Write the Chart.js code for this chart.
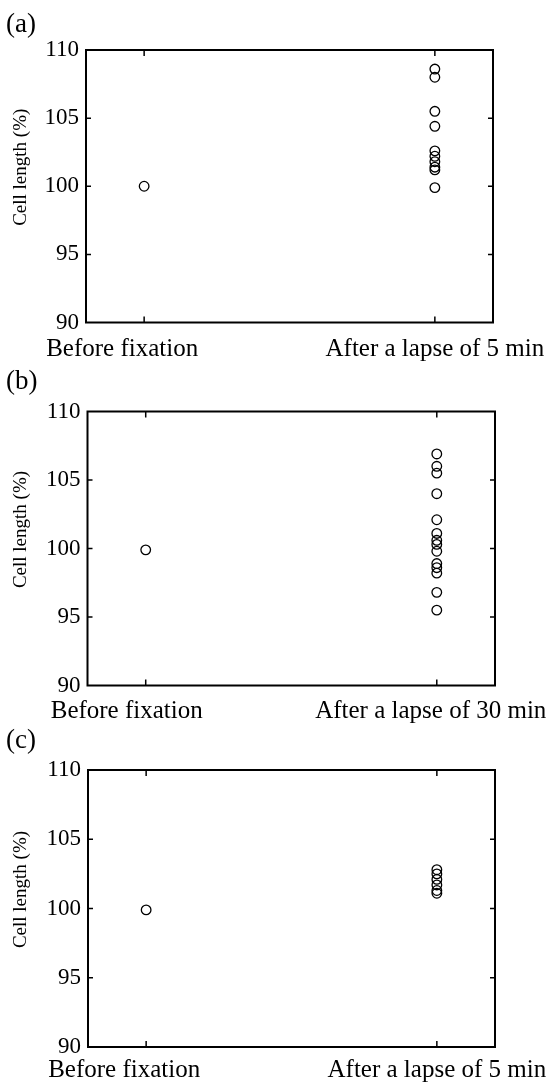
<!DOCTYPE html>
<html><head><meta charset="utf-8">
<script src="https://cdn.jsdelivr.net/npm/chart.js@4"></script>
<style>
html,body{margin:0;padding:0;background:#fff;}
body{width:552px;height:1082px;position:relative;overflow:hidden;}
.p{position:absolute;left:0;width:552px;}
canvas{display:block;}
</style></head><body>
<div class="p" id="wa"><canvas id="ca"></canvas></div>
<div class="p" id="wb"><canvas id="cb"></canvas></div>
<div class="p" id="wc"><canvas id="cc"></canvas></div>
<script>
// ---- data ----
const panelLabels = ['(a)', '(b)', '(c)'];
const yTitle = 'Cell length (%)';
const yTickValues = [90, 95, 100, 105, 110];
const categoryPositions = [1, 2];
const categoriesA = ['Before fixation', 'After a lapse of 5 min'];
const categoriesB = ['Before fixation', 'After a lapse of 30 min'];
const categoriesC = ['Before fixation', 'After a lapse of 5 min'];
const beforeA = [100.0];
const afterA = [108.6, 108.0, 105.5, 104.4, 102.6, 102.2, 101.8, 101.4, 101.2, 99.9];
const beforeB = [99.9];
const afterB = [106.9, 106.0, 105.5, 104.0, 102.1, 101.1, 100.6, 100.3, 99.8, 98.9, 98.6, 98.2, 96.8, 95.5];
const beforeC = [99.9];
const afterC = [102.8, 102.5, 102.1, 101.7, 101.3, 101.1];

// ---- layout / style ----
const SERIF = '"Liberation Serif", "DejaVu Serif", serif';
const panels = [
  {id:'a', label:panelLabels[0], cats:categoriesA, before:beforeA, after:afterA,
   top:0, h:365, cTop:50, cBot:322.5, left:86, right:493, lblOffs:[-22, 0], lblBase:32, catBase:33},
  {id:'b', label:panelLabels[1], cats:categoriesB, before:beforeB, after:afterB,
   top:365, h:360, cTop:46.5, cBot:320.5, left:87.5, right:495, lblOffs:[-19, -6], lblBase:24, catBase:32},
  {id:'c', label:panelLabels[2], cats:categoriesC, before:beforeC, after:afterC,
   top:725, h:357, cTop:45, cBot:322, left:88, right:495, lblOffs:[-22, 0], lblBase:23, catBase:30}
];

const framePlugin = {
  id: 'frame',
  afterDraw(chart, args, opts) {
    const {ctx, chartArea: a, scales} = chart;
    ctx.save();
    ctx.strokeStyle = '#000';
    ctx.lineWidth = 2;
    ctx.strokeRect(a.left, a.top, a.right - a.left, a.bottom - a.top);
    ctx.lineWidth = 1.5;
    ctx.beginPath();
    yTickValues.forEach(v => {
      if (v === scales.y.min || v === scales.y.max) return;
      const y = scales.y.getPixelForValue(v);
      ctx.moveTo(a.left, y); ctx.lineTo(a.left + 5, y);
      ctx.moveTo(a.right, y); ctx.lineTo(a.right - 5, y);
    });
    categoryPositions.forEach(v => {
      const x = scales.x.getPixelForValue(v);
      ctx.moveTo(x, a.bottom); ctx.lineTo(x, a.bottom - 6);
      ctx.moveTo(x, a.top); ctx.lineTo(x, a.top + 6);
    });
    ctx.stroke();
    ctx.fillStyle = '#000';
    // category labels
    ctx.font = '25px ' + SERIF;
    ctx.textAlign = 'center';
    ctx.textBaseline = 'alphabetic';
    categoryPositions.forEach((v, i) => {
      const x = scales.x.getPixelForValue(v) + opts.lblOffs[i];
      ctx.fillText(opts.cats[i], x, a.bottom + opts.catBase);
    });
    // panel label
    ctx.font = '27px ' + SERIF;
    ctx.textAlign = 'left';
    ctx.fillText(opts.label, 6, opts.lblBase);
    // y title
    ctx.font = '19px ' + SERIF;
    ctx.translate(21, (a.top + a.bottom) / 2 - 19);
    ctx.rotate(-Math.PI / 2);
    ctx.textAlign = 'center';
    ctx.textBaseline = 'middle';
    ctx.fillText(yTitle, 0, 0);
    ctx.restore();
  }
};

panels.forEach(p => {
  const wrap = document.getElementById('w' + p.id);
  wrap.style.top = p.top + 'px';
  wrap.style.height = p.h + 'px';
  const cv = document.getElementById('c' + p.id);
  cv.width = 552; cv.height = p.h;
  const pointStyle = {
    pointStyle: 'circle', pointRadius: 4.8, pointBorderWidth: 1.3,
    borderColor: '#000', backgroundColor: 'rgba(0,0,0,0)',
    pointBorderColor: '#000', pointBackgroundColor: 'rgba(0,0,0,0)', clip: false
  };
  new Chart(cv, {
    type: 'scatter',
    data: {
      datasets: [
        Object.assign({data: p.before.map(y => ({x: categoryPositions[0], y}))}, pointStyle),
        Object.assign({data: p.after.map(y => ({x: categoryPositions[1], y}))}, pointStyle)
      ]
    },
    options: {
      responsive: false,
      animation: false,
      events: [],
      layout: {padding: {top: p.cTop, right: 552 - p.right, left: 0, bottom: 0}},
      plugins: {
        legend: {display: false},
        tooltip: {enabled: false},
        frame: {label: p.label, lblBase: p.lblBase, cats: p.cats, lblOffs: p.lblOffs, catBase: p.catBase}
      },
      scales: {
        x: {
          type: 'linear', min: 0.8, max: 2.2,
          grid: {display: false, drawTicks: false},
          border: {display: false},
          afterBuildTicks: s => { s.ticks = categoryPositions.map(v => ({value: v})); },
          afterFit: s => { s.height = p.h - p.cBot; s.paddingLeft = 0; s.paddingRight = 0; },
          ticks: {display: false}
        },
        y: {
          type: 'linear', min: 90, max: 110,
          grid: {display: false, drawTicks: false},
          border: {display: false},
          afterBuildTicks: s => { s.ticks = yTickValues.map(v => ({value: v})); },
          afterFit: s => { s.width = p.left; },
          ticks: {
            padding: 7, color: '#000',
            font: {family: SERIF, size: 23},
            callback: v => String(v)
          }
        }
      }
    },
    plugins: [framePlugin]
  });
});
</script>
</body></html>
